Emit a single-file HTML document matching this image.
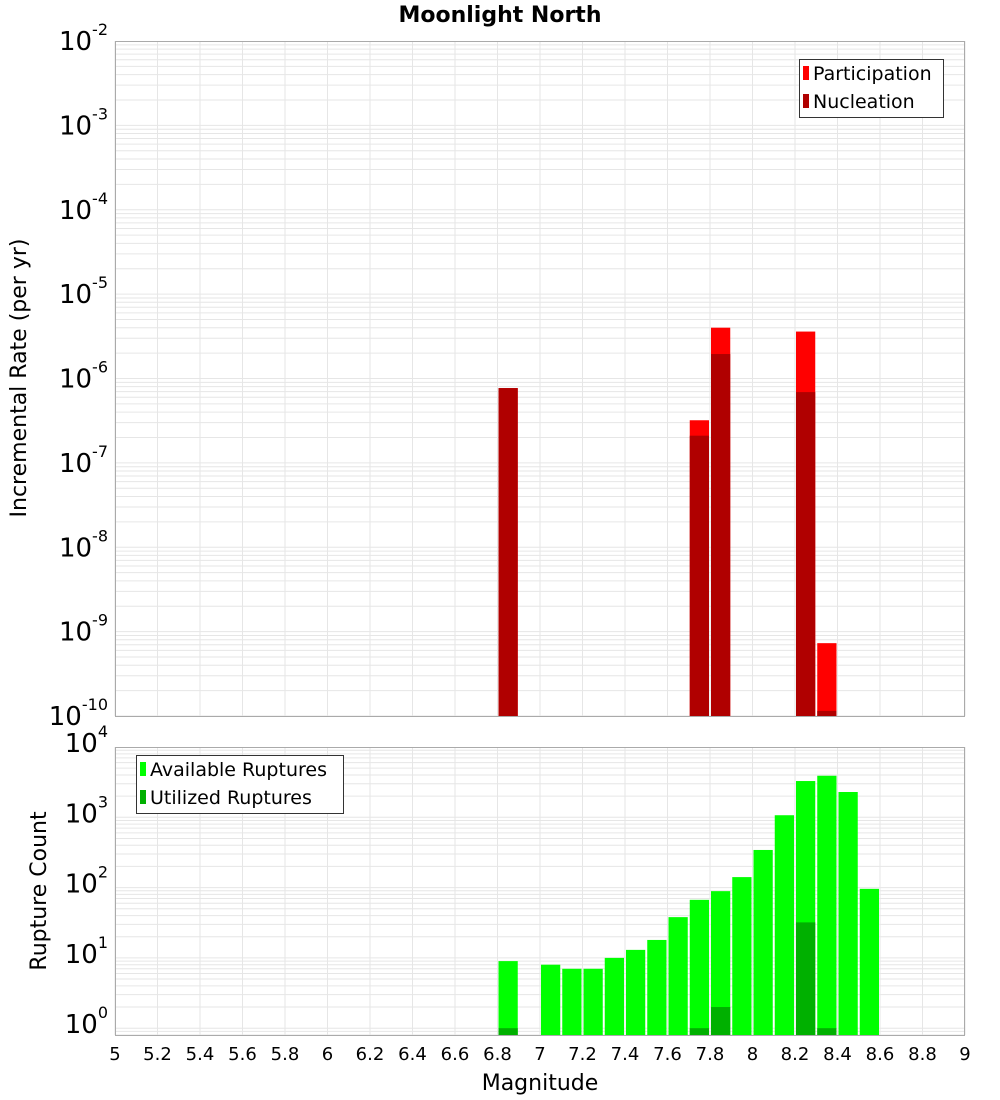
<!DOCTYPE html>
<html><head><meta charset="utf-8"><style>
body{margin:0;background:#fff}
svg{display:block;font-family:"DejaVu Sans","Liberation Sans",sans-serif}
</style></head><body>
<svg id="c" width="1000" height="1100" viewBox="0 0 1000 1100" xmlns="http://www.w3.org/2000/svg">
<text x="500" y="22" text-anchor="middle" font-size="22" font-weight="bold">Moonlight North</text>
<g id="top"></g><g id="bot"></g>
<text transform="translate(26,378) rotate(-90)" text-anchor="middle" font-size="22">Incremental Rate (per yr)</text>
<text transform="translate(46,891) rotate(-90)" text-anchor="middle" font-size="22">Rupture Count</text>
<text x="540" y="1090" text-anchor="middle" font-size="22">Magnitude</text>
</svg>
<script>
const rateMags=[6.8,7.7,7.8,8.2,8.3];
const participation=[7.7e-7,3.2e-7,4.0e-6,3.6e-6,7.3e-10];
const nucleation=[7.7e-7,2.1e-7,1.95e-6,6.9e-7,1.15e-10];
const countMags=[6.8,7.0,7.1,7.2,7.3,7.4,7.5,7.6,7.7,7.8,7.9,8.0,8.1,8.2,8.3,8.4,8.5];
const available=[9,8,7,7,10,13,18,38,67,89,141,343,1070,3280,3900,2290,96];
const utilMags=[6.8,7.7,7.8,8.2,8.3];
const utilized=[1,1,2,32,1];
const xTicks=[5,5.2,5.4,5.6,5.8,6,6.2,6.4,6.6,6.8,7,7.2,7.4,7.6,7.8,8,8.2,8.4,8.6,8.8,9];
const topExp=[-2,-3,-4,-5,-6,-7,-8,-9,-10];
const botExp=[0,1,2,3,4];

const NS="http://www.w3.org/2000/svg";
const L=115,R=965;
function x(m){return L+(m-5)/4*(R-L);}
function mk(p,t,a){const e=document.createElementNS(NS,t);for(const k in a)e.setAttribute(k,a[k]);p.appendChild(e);return e;}
function panel(g,T,B,lmin,lmax,name){
  const y=v=>B-(Math.log10(v)-lmin)/(lmax-lmin)*(B-T);
  for(let d=Math.floor(lmin);d<Math.ceil(lmax);d++)for(let k=1;k<10;k++){
    const v=k*Math.pow(10,d);const lv=Math.log10(v);if(lv<lmin||lv>lmax)continue;
    const l=mk(g,'line',{x1:L,x2:R,y1:y(v),y2:y(v),stroke:'#e6e6e6','stroke-width':1});
    
  }
  xTicks.forEach(t=>{const l=mk(g,'line',{x1:x(t),x2:x(t),y1:T,y2:B,stroke:'#e6e6e6','stroke-width':1});
    });
  return y;
}
function bar(g,m,v,y,B,fill,name){
  const r=mk(g,'rect',{x:x(m)+1,width:x(m+0.1)-x(m)-2,y:y(v),height:B-y(v),fill:fill});
  
}
function frame(g,T,B,name){const r=mk(g,'rect',{x:L+0.5,y:T+0.5,width:R-L-1,height:B-T,fill:'none',stroke:'#aaa'});
  }
function ylab(g,yy,e,name){const t=mk(g,'text',{x:108,y:yy+9,'text-anchor':'end','font-size':26});
  
  t.textContent='10';const s=mk(t,'tspan',{dy:-15,'font-size':16});s.textContent=String(e);}

// top
const gt=document.getElementById('top');
const yT=panel(gt,41,716,-10,-2,'top');
rateMags.forEach((m,i)=>bar(gt,m,participation[i],yT,716,'#ff0000','participation-bar'));
rateMags.forEach((m,i)=>bar(gt,m,nucleation[i],yT,716,'#b00000','nucleation-bar'));
frame(gt,41,716,'top');
topExp.forEach(e=>ylab(gt,yT(Math.pow(10,e)),e,'top'));
// bottom
const gb=document.getElementById('bot');
const yB=panel(gb,747,1035,Math.log10(0.8),4,'bottom');
countMags.forEach((m,i)=>bar(gb,m,available[i],yB,1035,'#00ff00','available-bar'));
utilMags.forEach((m,i)=>bar(gb,m,utilized[i],yB,1035,'#00b000','utilized-bar'));
frame(gb,747,1035,'bottom');
botExp.forEach(e=>ylab(gb,yB(Math.pow(10,e))-4,e,'bottom'));
xTicks.forEach(t=>{const tx=mk(gb,'text',{x:x(t),y:1060,'text-anchor':'middle','font-size':18});
  tx.textContent=String(t);});

function legend(g,x0,y0,w,h,items,name){
  const lg=mk(g,'g',{});
  mk(lg,'rect',{x:x0+0.5,y:y0+0.5,width:w,height:h,fill:'#fff',stroke:'#333'});
  items.forEach((it,i)=>{const cy=y0+14+i*28;
    const sw=mk(lg,'rect',{x:x0+4,y:cy-7,width:6,height:14,fill:it[1]});
    
    const t=mk(lg,'text',{x:x0+14,y:cy+7,'font-size':19});
    t.textContent=it[0];});
}
legend(gt,799,59,144,58,[['Participation','#ff0000'],['Nucleation','#b00000']],'top-legend');
legend(gb,136,755,207,58,[['Available Ruptures','#00ff00'],['Utilized Ruptures','#00b000']],'bottom-legend');
</script>
</body></html>
